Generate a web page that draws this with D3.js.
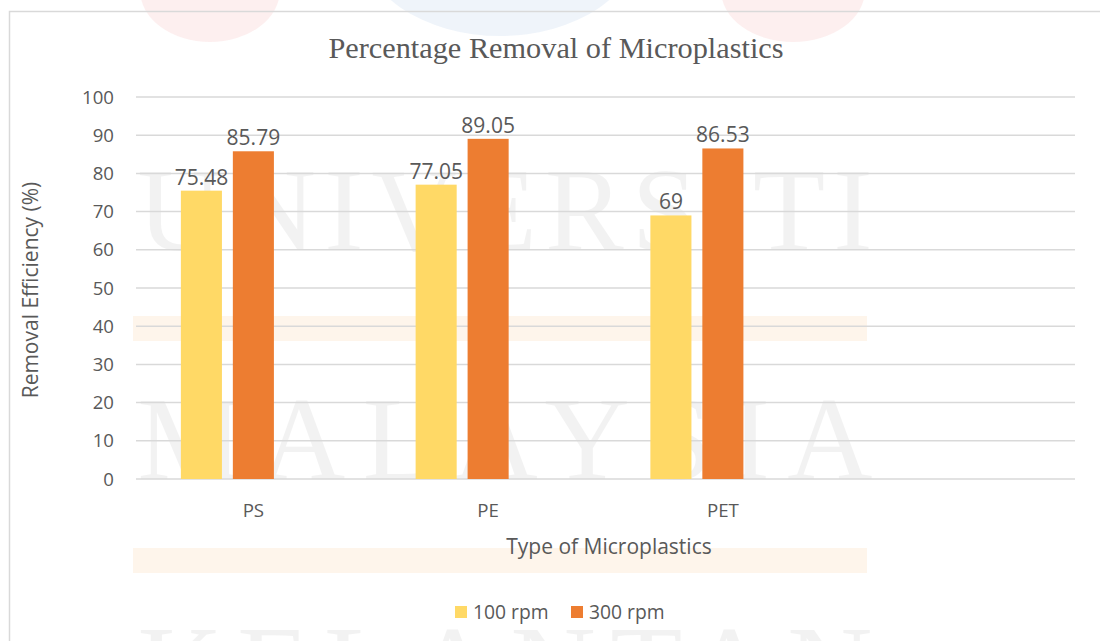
<!DOCTYPE html>
<html>
<head>
<meta charset="utf-8">
<script src="https://cdn.jsdelivr.net/npm/d3@7"></script>
<style>
  body { margin: 0; background: #fff; }
  svg { display: block; }
</style>
</head>
<body>
<svg id="chart" width="1100" height="641"></svg>
<script>
// data
const categories = ["PS", "PE", "PET", ""];
const seriesNames = ["100 rpm", "300 rpm"];
const slots = ["100 rpm", "300 rpm", "blank"];   // third slot is an empty series
const rpm100 = [75.48, 77.05, 69];
const rpm300 = [85.79, 89.05, 86.53];
const yTicks = [0, 10, 20, 30, 40, 50, 60, 70, 80, 90, 100];
const watermarkWords = ["UNIVERSITI", "MALAYSIA", "KELANTAN"];

const colors = { "100 rpm": "#FFD966", "300 rpm": "#ED7D31" };
const textColor = "#595959";
const sans = "'Open Sans', 'DejaVu Sans', sans-serif";

const svg = d3.select("#chart");

// faint background watermark, drawn first
const wm = svg.append("g").attr("class", "watermark");
wm.append("ellipse").attr("cx", 210).attr("cy", -10).attr("rx", 70).attr("ry", 52)
    .attr("fill", "#f5b5b5").attr("opacity", 0.22);
wm.append("ellipse").attr("cx", 500).attr("cy", -60).attr("rx", 140).attr("ry", 96)
    .attr("fill", "#b8cde6").attr("opacity", 0.22);
wm.append("ellipse").attr("cx", 793).attr("cy", -10).attr("rx", 72).attr("ry", 52)
    .attr("fill", "#f5b5b5").attr("opacity", 0.22);
wm.selectAll("rect.band")
    .data([316, 548])
    .enter().append("rect")
    .attr("class", "band")
    .attr("x", 133).attr("y", d => d).attr("width", 734).attr("height", 25)
    .attr("fill", "#fde3c6").attr("opacity", 0.35);
wm.selectAll("text")
    .data(watermarkWords)
    .enter().append("text")
    .attr("x", 505)
    .attr("y", (d, i) => [250, 479, 708][i])
    .attr("text-anchor", "middle")
    .attr("textLength", 735)
    .attr("lengthAdjust", "spacing")
    .style("font-family", "'Liberation Serif', 'Times New Roman', serif")
    .style("font-size", "118px")
    .style("fill", "#9a9a9a")
    .style("opacity", 0.12)
    .text(d => d);

// chart frame
svg.append("path")
    .attr("d", "M9.5,645 L9.5,11.5 L1105,11.5")
    .attr("fill", "none")
    .attr("stroke", "#d9d9d9")
    .attr("stroke-width", 1.5);

// scales
const plotLeft = 136, plotRight = 1075;
const y = d3.scaleLinear().domain([0, 100]).range([479, 97]);
const x0 = d3.scaleBand().domain(categories).range([plotLeft, plotRight]);
const x1 = d3.scaleBand().domain(slots)
    .range([x0.bandwidth() / 2 - 72.5, x0.bandwidth() / 2 + 72.5])
    .paddingInner(0.21);

// gridlines
svg.append("g")
    .selectAll("line")
    .data(yTicks)
    .enter().append("line")
    .attr("x1", plotLeft).attr("x2", plotRight)
    .attr("y1", d => y(d)).attr("y2", d => y(d))
    .attr("stroke", "#d9d9d9")
    .attr("stroke-width", 1.5);

// y tick labels
svg.append("g")
    .selectAll("text")
    .data(yTicks)
    .enter().append("text")
    .attr("x", 114)
    .attr("y", d => y(d))
    .attr("dy", "0.36em")
    .attr("text-anchor", "end")
    .style("font-family", sans)
    .style("font-size", "18.6px")
    .style("fill", textColor)
    .text(d => d);

// bars
const rows = categories.slice(0, 3).map((c, i) => ({
    cat: c,
    vals: [{ key: "100 rpm", v: rpm100[i] }, { key: "300 rpm", v: rpm300[i] }]
}));

const groups = svg.append("g")
    .selectAll("g")
    .data(rows)
    .enter().append("g")
    .attr("transform", d => `translate(${x0(d.cat)},0)`);

groups.selectAll("rect")
    .data(d => d.vals)
    .enter().append("rect")
    .attr("x", d => x1(d.key))
    .attr("width", x1.bandwidth())
    .attr("y", d => y(d.v))
    .attr("height", d => y(0) - y(d.v))
    .attr("fill", d => colors[d.key]);

groups.selectAll("text")
    .data(d => d.vals)
    .enter().append("text")
    .attr("x", d => x1(d.key) + x1.bandwidth() / 2)
    .attr("y", d => y(d.v) - 6)
    .attr("text-anchor", "middle")
    .style("font-family", sans)
    .style("font-size", "21px")
    .style("fill", textColor)
    .text(d => d.v);

// category labels
svg.append("g")
    .selectAll("text")
    .data(categories)
    .enter().append("text")
    .attr("x", d => x0(d) + x0.bandwidth() / 2)
    .attr("y", 517)
    .attr("text-anchor", "middle")
    .style("font-family", sans)
    .style("font-size", "18.7px")
    .style("fill", textColor)
    .text(d => d);

// titles
svg.append("text")
    .attr("x", 556).attr("y", 58)
    .attr("text-anchor", "middle")
    .style("font-family", "'Liberation Serif', 'Times New Roman', serif")
    .style("font-size", "30.3px")
    .style("fill", textColor)
    .text("Percentage Removal of Microplastics");

svg.append("text")
    .attr("x", 609).attr("y", 554)
    .attr("text-anchor", "middle")
    .style("font-family", sans)
    .style("font-size", "21px")
    .style("fill", textColor)
    .text("Type of Microplastics");

svg.append("text")
    .attr("transform", "translate(38,290) rotate(-90)")
    .attr("text-anchor", "middle")
    .style("font-family", sans)
    .style("font-size", "21px")
    .style("fill", textColor)
    .text("Removal Efficiency (%)");

// legend
const legendX = [455, 571];
const legend = svg.append("g")
    .selectAll("g")
    .data(seriesNames)
    .enter().append("g")
    .attr("transform", (d, i) => `translate(${legendX[i]},606)`);
legend.append("rect")
    .attr("width", 12).attr("height", 12)
    .attr("fill", d => colors[d]);
legend.append("text")
    .attr("x", 18).attr("y", 6)
    .attr("dy", "0.36em")
    .style("font-family", sans)
    .style("font-size", "19.3px")
    .style("fill", textColor)
    .text(d => d);
</script>
</body>
</html>
